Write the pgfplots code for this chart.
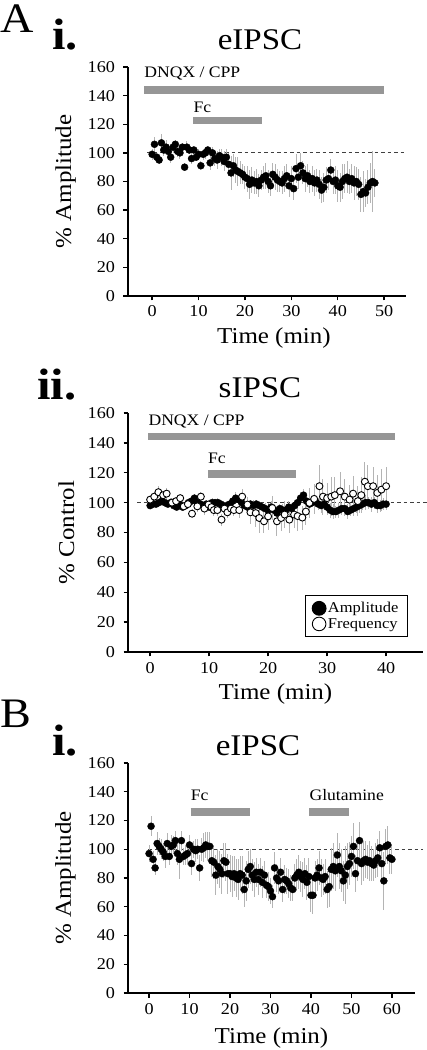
\documentclass[border=0pt]{standalone}
\usepackage{fontspec}
\setmainfont{Liberation Serif}[FakeStretch=1.1]
\usepackage{pgfplots}
\pgfplotsset{compat=1.18}
\usepackage{pgfplotstable}

\definecolor{barg}{RGB}{150,150,150}
\definecolor{errg}{RGB}{180,180,180}

\pgfplotstableread{
t v e
0 99 4
0.5 106 5
1 97 3
1.5 95 3
2 107 6
2.5 102 4
3 104 5
3.5 101 4
4 97 4
4.5 104 4
5 106 3
5.5 101 4
6 100 4
6.5 104 3
7 90 3
7.5 104 4
8 102 3
8.5 96 4
9 102 3
9.5 97 3
10 99 4
10.5 91 3
11 99 4
11.5 100 4
12 102 3
12.5 93 5
13 100 4
13.5 96 5
14 95 6
14.5 98 5
15 97 6
15.5 94 7
16 97 6
16.5 92 8
17 86 12
17.5 91 8
18 88 9
18.5 87 10
19 86 8
19.5 85 7
20 83 8
20.5 82 9
21 78 10
21.5 81 9
22 79 8
22.5 80 9
23 77 8
23.5 81 7
24 83 8
24.5 84 9
25 80 8
25.5 77 7
26 85 8
26.5 83 9
27 81 8
27.5 80 7
28 79 8
28.5 82 9
29 84 8
29.5 77 8
30 82 9
30.5 75 8
31 89 10
31.5 83 8
32 91 9
32.5 86 8
33 82 9
33.5 84 8
34 80 8
34.5 82 9
35 79 9
35.5 81 8
36 78 10
36.5 74 9
37 76 10
37.5 81 9
38 82 8
38.5 88 8
39 80 9
39.5 81 10
40 77 11
40.5 76 10
41 80 12
41.5 82 10
42 83 11
42.5 80 9
43 82 10
43.5 79 12
44 80 10
44.5 78 11
45 71 12
45.5 73 14
46 72 10
46.5 76 12
47 79 14
47.5 80 21
48 79 10
}\tabAi

\pgfplotstableread{
t v e
0 98 2
0.5 99 2
1 99 2
1.5 100 2
2 101 2
2.5 100 3
3 99 2
3.5 100 3
4 98 2
4.5 97 2
5 99 2
5.5 97 2
6 98 2
6.5 100 2
7 101 3
7.5 103 3
8 100 2
8.5 99 2
9 98 2
9.5 99 3
10 97 2
10.5 100 3
11 100 2
11.5 100 3
12 99 2
12.5 97 2
13 98 3
13.5 99 2
14 101 3
14.5 103 4
15 102 3
15.5 100 3
16 98 2
16.5 97 3
17 99 3
17.5 98 4
18 99 3
18.5 98 3
19 97 3
19.5 96 4
20 95 3
20.5 97 4
21 95 4
21.5 93 4
22 96 3
22.5 95 4
23 95 3
23.5 97 4
24 96 3
24.5 98 4
25 100 4
25.5 103 4
26 105 4
26.5 101 3
27 99 3
27.5 100 3
28 101 4
28.5 99 4
29 98 5
29.5 99 4
30 97 5
30.5 95 5
31 94 5
31.5 94 4
32 95 5
32.5 96 4
33 96 5
33.5 94 5
34 95 4
34.5 96 5
35 97 4
35.5 98 5
36 99 4
36.5 100 5
37 100 4
37.5 99 5
38 100 4
38.5 98 5
39 98 4
39.5 99 4
40 99 4
}\tabAiiAmp

\pgfplotstableread{
t v e
0 102 3
0.7 104 3
1.4 107 4
2.2 105 3
2.8 106 4
3.7 100 3
4.4 101 3
5.1 103 3
5.7 97.5 3
6.4 99 3
7.1 92.6 3
8 97.5 4
8.6 104 3
9.2 96 4
9.9 98.7 3
10.4 97 4
10.8 95 4
11.4 95 4
12.1 88.6 4
12.6 96 4
13.1 93.5 4
13.7 96 4
14.2 95 4
15.1 95 5
15.6 104 5
16.5 98.7 5
17 93.5 8
17.9 93 9
18.5 89.7 10
19.3 87.5 8
20 90.8 9
20.7 96.4 8
21.5 87.5 10
22.2 89.7 9
22.8 92 9
23.6 88.6 9
24.4 92 9
25 91 10
25.8 90 8
26.4 94 9
27 99.8 10
27.8 102.5 10
28.7 111 14
29.3 104 12
30 103 10
30.7 104 13
31.3 105 12
32.2 107.6 13
33 104 12
33.8 102 10
34.4 106 12
35.2 101 10
35.8 105 12
36.4 114 13
36.9 111 14
37.8 111 13
38.5 106.5 12
39.2 108.7 14
40 111 13
}\tabAiiFreq

\pgfplotstableread{
t v e
0 97 6
0.5 116 7
1 93 6
1.5 87 5
2 104 8
2.5 102 6
3 100 7
3.5 98 6
4 95 8
4.5 104 7
5 95 6
5.5 102 8
6 103 6
6.5 106 7
7 97 8
7.5 93 14
8 106 7
8.5 95 6
9 96 7
9.5 97 8
10 103 7
10.5 90 8
11 100 6
11.5 99 8
12 100 7
12.5 87 9
13 100 8
13.5 101 10
14 103 9
14.5 102 10
15 102 10
15.5 92 11
16 91 12
16.5 82 14
17 88 12
17.5 86 13
18 83 14
18.5 92 12
19 91 13
19.5 83 14
20 83 13
20.5 81 14
21 83 12
21.5 80 13
22 79 14
22.5 83 12
23 82 13
23.5 72 12
24 78 14
24.5 86 13
25 88 12
25.5 82 11
26 79 12
26.5 84 10
27 79 11
27.5 84 10
28 77 11
28.5 82 10
29 75 9
29.5 74 10
30 71 9
30.5 67 8
31 87 11
31.5 80 10
32 78 9
32.5 84 10
33 72 9
33.5 79 10
34 78 9
34.5 76 10
35 73 9
35.5 72 8
36 80 10
36.5 82 11
37 84 12
37.5 81 11
38 79 12
38.5 83 11
39 77 12
39.5 81 13
40 68 12
40.5 68 13
41 80 12
41.5 82 11
42 87 12
42.5 80 13
43 79 11
43.5 81 12
44 72 13
44.5 74 14
45 86 15
45.5 88 16
46 85 14
46.5 96 15
47 88 16
47.5 85 15
48 78 14
48.5 82 20
49 88 16
49.5 90 15
50 95 14
50.5 102 16
51 83 13
51.5 92 14
52 106 13
52.5 90 15
53 92 14
53.5 93 13
54 91 12
54.5 92 14
55 90 12
55.5 89 11
56 92 12
56.5 94 13
57 101 12
57.5 90 11
58 78 20
58.5 102 12
59 103 13
59.5 94 11
60 93 10
}\tabBi

\pgfplotsset{
  myax/.style={
    scale only axis,
    axis lines=left,
    axis line style={-, line width=1.7pt},
    tick align=outside,
    major tick length=4.5pt,
    tick style={line width=1.4pt, black},
    ymin=0, ymax=160,
    ytick={0,20,...,160},
    clip=false,
    tick label style={font=\fontsize{16.5}{18}\selectfont},
    yticklabel style={xshift=-5pt},
    xticklabel style={yshift=-2pt},
    /pgf/number format/assume math mode=true,
    label style={font=\fontsize{22.7}{26}\selectfont},
  },
  dat/.style={only marks, mark=*, mark size=3.5pt, black,
    mark options={fill=black},
    error bars/.cd, y dir=both, y explicit,
    error bar style={errg, line width=1pt}, error mark=none},
  datopen/.style={only marks, mark=*, mark size=3.5pt, black,
    mark options={fill=white, line width=0.9pt},
    error bars/.cd, y dir=both, y explicit,
    error bar style={errg, line width=1pt}, error mark=none},
  dashln/.style={forget plot, black!75, line width=1pt, dash pattern=on 3.5pt off 3pt},
  gbar/.style={forget plot, barg, line width=7.5pt},
}

\newcommand{\annfont}{\fontsize{16}{18}\selectfont}

\begin{document}
\begin{tikzpicture}
\useasboundingbox (0pt,0pt) rectangle (426pt,1050pt);

% Panel letters and titles
\node[anchor=base west, inner sep=0pt, font=\fontsize{42}{44}\selectfont] at (0pt,1017pt) {A};
\node[anchor=base west, inner sep=0pt, font=\fontsize{44}{46}\selectfont\bfseries] at (52pt,1000pt) {i.};
\node[anchor=base, inner sep=0pt, font=\fontsize{30}{32}\selectfont] at (260pt,1000pt) {eIPSC};

\node[anchor=base west, inner sep=0pt, font=\fontsize{44}{46}\selectfont\bfseries] at (37pt,650pt) {ii.};
\node[anchor=base, inner sep=0pt, font=\fontsize{30}{32}\selectfont] at (260pt,652pt) {sIPSC};

\node[anchor=base west, inner sep=0pt, font=\fontsize{42}{44}\selectfont] at (0pt,322pt) {B};
\node[anchor=base west, inner sep=0pt, font=\fontsize{44}{46}\selectfont\bfseries] at (52pt,294pt) {i.};
\node[anchor=base, inner sep=0pt, font=\fontsize{30}{32}\selectfont] at (258pt,294pt) {eIPSC};

% ---------------- A i ----------------
\begin{axis}[myax, at={(128pt,754pt)}, anchor=south west,
  width=278pt, height=229pt,
  xmin=-5.2, xmax=54.7, xtick={0,10,...,50},
  xlabel={Time (min)}, ylabel={\% Amplitude},
  xlabel style={at={(axis description cs:0.525,0)}, anchor=base, yshift=-48pt},
  ylabel style={at={(axis description cs:-0.205,0.5)}, anchor=base},
]
\addplot[gbar] coordinates {(-1.7,144) (50,144)};
\addplot[gbar] coordinates {(8.9,122.7) (23.6,122.7)};
\addplot[dashln] coordinates {(-1.1,100) (54.5,100)};
\node[anchor=base west, inner sep=0pt, font=\annfont] at (axis cs:-1.7,153) {DNQX / CPP};
\node[anchor=base west, inner sep=0pt, font=\annfont] at (axis cs:8.9,128.5) {Fc};
\addplot[dat] table[x=t, y=v, y error=e] {\tabAi};
\end{axis}

% ---------------- A ii ----------------
\begin{axis}[myax, at={(128pt,398pt)}, anchor=south west,
  width=295pt, height=239pt,
  xmin=-3.75, xmax=46.25, xtick={0,10,...,40},
  xlabel={Time (min)}, ylabel={\% Control},
  xlabel style={at={(axis description cs:0.5,0)}, anchor=base, yshift=-48pt},
  ylabel style={at={(axis description cs:-0.183,0.5)}, anchor=base},
  legend style={at={(axis cs:43.7,10)}, anchor=south east, draw=black, line width=0.9pt,
    font=\fontsize{15}{17.7}\selectfont, cells={anchor=west}, inner xsep=7pt, inner ysep=5pt},
  legend image code/.code={\draw[#1, mark size=6.8pt, line width=1.2pt] plot coordinates {(0.22cm,0cm)};},
]
\addplot[gbar] coordinates {(-0.3,144.1) (41.5,144.1)};
\addplot[gbar] coordinates {(9.8,119.3) (24.7,119.3)};
\addplot[dashln] coordinates {(-2.2,100) (47.6,100)};
\node[anchor=base west, inner sep=0pt, font=\annfont] at (axis cs:-0.3,151.5) {DNQX / CPP};
\node[anchor=base west, inner sep=0pt, font=\annfont] at (axis cs:9.8,126.5) {Fc};
\addplot[dat] table[x=t, y=v, y error=e] {\tabAiiAmp};
\addlegendentry{Amplitude}
\addplot[datopen] table[x=t, y=v, y error=e] {\tabAiiFreq};
\addlegendentry{Frequency}
\end{axis}

% ---------------- B i ----------------
\begin{axis}[myax, at={(128pt,57pt)}, anchor=south west,
  width=287pt, height=230pt,
  xmin=-5.2, xmax=65.7, xtick={0,10,...,60},
  xlabel={Time (min)}, ylabel={\% Amplitude},
  xlabel style={at={(axis description cs:0.5,0)}, anchor=base, yshift=-50pt},
  ylabel style={at={(axis description cs:-0.199,0.5)}, anchor=base},
]
\addplot[gbar] coordinates {(10.3,126) (25,126)};
\addplot[gbar] coordinates {(39.6,126) (49.5,126)};
\addplot[dashln] coordinates {(-0.2,100) (67.6,100)};
\node[anchor=base west, inner sep=0pt, font=\annfont] at (axis cs:10.3,134) {Fc};
\node[anchor=base west, inner sep=0pt, font=\annfont] at (axis cs:39.6,134) {Glutamine};
\addplot[dat] table[x=t, y=v, y error=e] {\tabBi};
\end{axis}
\end{tikzpicture}
\end{document}
